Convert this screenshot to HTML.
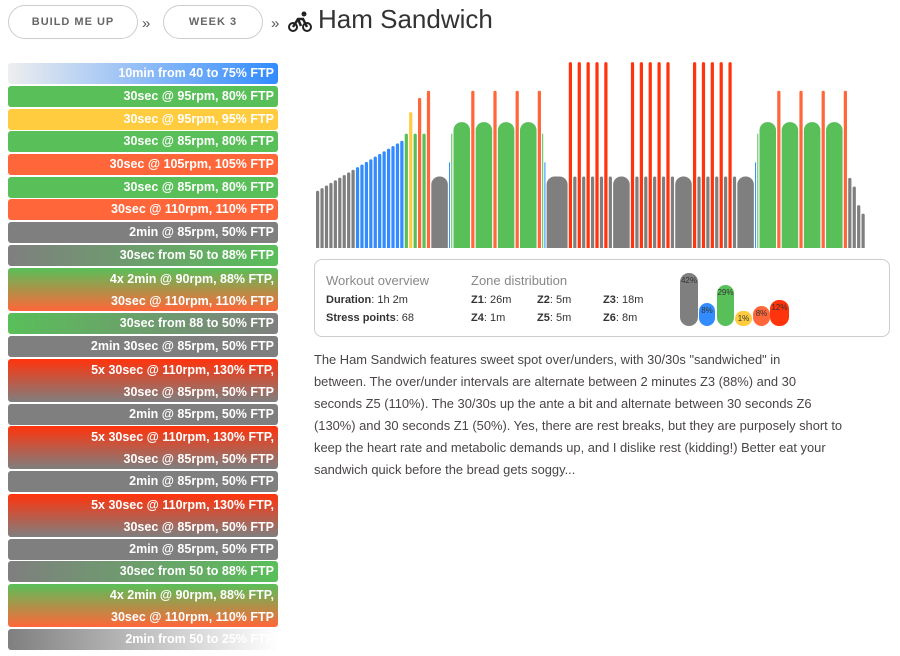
<!DOCTYPE html>
<html><head><meta charset="utf-8"><style>
body{margin:0;width:900px;height:656px;background:#fff;font-family:"Liberation Sans",sans-serif;position:relative;overflow:hidden}
.btn{position:absolute;top:5px;height:32px;border:1px solid #ccc;border-radius:17px;font-size:11px;font-weight:bold;letter-spacing:1px;color:#666;display:flex;align-items:center;justify-content:center}
.sep{position:absolute;top:15px;font-size:15px;color:#555}
.title{position:absolute;left:318px;top:4px;font-size:26px;color:#333}
.row{position:absolute;left:8px;width:270px;border-radius:3px;color:#fff;font-weight:bold;font-size:12.5px;text-align:right;box-sizing:border-box;padding-right:4px;line-height:21px}
.g{background:#59bf59}.y{background:#ffcc3f}.o{background:#ff6639}.k{background:#7f7f7f}
.go{background:linear-gradient(#59bf59,#ff6639)}.rk{background:linear-gradient(#ff330c,#7f7f7f)}
.box{position:absolute;left:314px;top:259px;width:576px;height:78px;border:1px solid #ccc;border-radius:8px;box-sizing:border-box}
.t{position:absolute;font-size:11px;color:#333;white-space:nowrap}
.h{position:absolute;font-size:13px;color:#888;white-space:nowrap}
.pill{position:absolute;border-radius:9px;font-size:8px;color:#333;text-align:center;padding-top:3px;box-sizing:border-box}
.desc{position:absolute;left:314px;top:349px;font-size:12.9px;line-height:22.1px;color:#4a4548;white-space:nowrap}
</style></head><body>
<div class="btn" style="left:8px;width:128px">BUILD ME UP</div>
<div class="sep" style="left:142px">»</div>
<div class="btn" style="left:163px;width:98px">WEEK 3</div>
<div class="sep" style="left:271px">»</div>
<svg style="position:absolute;left:288px;top:11px" width="24" height="22" viewBox="0 0 24 22"><circle cx="5" cy="16" r="4" fill="none" stroke="#222" stroke-width="2"/><circle cx="19" cy="16" r="4" fill="none" stroke="#222" stroke-width="2"/><circle cx="16" cy="3" r="2.5" fill="#222"/><path d="M5 16 L10 8 L15 8 L19 16 M10 8 L13 15" stroke="#222" stroke-width="2.5" fill="none"/></svg>
<div class="title">Ham Sandwich</div>

<div class="row" style="top:63px;height:21px;background:linear-gradient(90deg,#eee,#328bff)">10min from 40 to 75% FTP</div>
<div class="row g" style="top:86px;height:21px">30sec @ 95rpm, 80% FTP</div>
<div class="row y" style="top:108.5px;height:21px">30sec @ 95rpm, 95% FTP</div>
<div class="row g" style="top:131px;height:21px">30sec @ 85rpm, 80% FTP</div>
<div class="row o" style="top:154px;height:21px">30sec @ 105rpm, 105% FTP</div>
<div class="row g" style="top:176.5px;height:21px">30sec @ 85rpm, 80% FTP</div>
<div class="row o" style="top:199px;height:21px">30sec @ 110rpm, 110% FTP</div>
<div class="row k" style="top:222px;height:21px">2min @ 85rpm, 50% FTP</div>
<div class="row" style="top:245px;height:21px;background:linear-gradient(90deg,#7f7f7f,#59bf59)">30sec from 50 to 88% FTP</div>
<div class="row go" style="top:268px;height:43px;line-height:22px">4x 2min @ 90rpm, 88% FTP,<br>30sec @ 110rpm, 110% FTP</div>
<div class="row" style="top:313px;height:21px;background:linear-gradient(90deg,#59bf59,#7f7f7f)">30sec from 88 to 50% FTP</div>
<div class="row k" style="top:336px;height:21px">2min 30sec @ 85rpm, 50% FTP</div>
<div class="row rk" style="top:359px;height:43px;line-height:22px">5x 30sec @ 110rpm, 130% FTP,<br>30sec @ 85rpm, 50% FTP</div>
<div class="row k" style="top:403.5px;height:21px">2min @ 85rpm, 50% FTP</div>
<div class="row rk" style="top:426px;height:43px;line-height:22px">5x 30sec @ 110rpm, 130% FTP,<br>30sec @ 85rpm, 50% FTP</div>
<div class="row k" style="top:471px;height:21px">2min @ 85rpm, 50% FTP</div>
<div class="row rk" style="top:494px;height:43px;line-height:22px">5x 30sec @ 110rpm, 130% FTP,<br>30sec @ 85rpm, 50% FTP</div>
<div class="row k" style="top:538.5px;height:21px">2min @ 85rpm, 50% FTP</div>
<div class="row" style="top:561px;height:21px;background:linear-gradient(90deg,#7f7f7f,#59bf59)">30sec from 50 to 88% FTP</div>
<div class="row go" style="top:584px;height:43px;line-height:22px">4x 2min @ 90rpm, 88% FTP,<br>30sec @ 110rpm, 110% FTP</div>
<div class="row" style="top:629px;height:21px;background:linear-gradient(90deg,#7f7f7f,#fff)">2min from 50 to 25% FTP</div>

<svg id="ch" style="position:absolute;left:0;top:0" width="900" height="260"></svg>

<div class="box"></div>
<div class="h" style="left:326px;top:273px">Workout overview</div>
<div class="t" style="left:326px;top:294px"><b>Duration</b>: 1h 2m</div>
<div class="t" style="left:326px;top:312px"><b>Stress points</b>: 68</div>
<div class="h" style="left:471px;top:273px">Zone distribution</div>
<div class="t" style="left:471px;top:294px"><b>Z1</b>: 26m</div>
<div class="t" style="left:537px;top:294px"><b>Z2</b>: 5m</div>
<div class="t" style="left:603px;top:294px"><b>Z3</b>: 18m</div>
<div class="t" style="left:471px;top:312px"><b>Z4</b>: 1m</div>
<div class="t" style="left:537px;top:312px"><b>Z5</b>: 5m</div>
<div class="t" style="left:603px;top:312px"><b>Z6</b>: 8m</div>
<div class="pill" style="left:680px;top:273px;width:18px;height:53px;background:#7f7f7f">42%</div>
<div class="pill" style="left:699px;top:303px;width:16px;height:23px;background:#328bff">8%</div>
<div class="pill" style="left:717px;top:285px;width:17px;height:41px;background:#59bf59">29%</div>
<div class="pill" style="left:735px;top:311px;width:17px;height:15px;background:#ffcc3f">1%</div>
<div class="pill" style="left:753px;top:306px;width:17px;height:20px;background:#ff6639">8%</div>
<div class="pill" style="left:770px;top:300px;width:19px;height:26px;background:#ff330c">12%</div>

<div class="desc">The Ham Sandwich features sweet spot over/unders, with 30/30s "sandwiched" in<br>between. The over/under intervals are alternate between 2 minutes Z3 (88%) and 30<br>seconds Z5 (110%). The 30/30s up the ante a bit and alternate between 30 seconds Z6<br>(130%) and 30 seconds Z1 (50%). Yes, there are rest breaks, but they are purposely short to<br>keep the heart rate and metabolic demands up, and I dislike rest (kidding!) Better eat your<br>sandwich quick before the bread gets soggy...</div>

<script>
var segs=[],t=0;
function add(d,p){segs.push([t,d,p]);t+=d;}
for(var i=0;i<20;i++)add(0.5,40+35*i/19);
add(.5,80);add(.5,95);add(.5,80);add(.5,105);add(.5,80);add(.5,110);add(2,50);
add(.25,60);add(.25,80);
for(i=0;i<4;i++){add(2,88);add(.5,110);}
add(.25,80);add(.25,60);add(2.5,50);
for(var b=0;b<3;b++){for(i=0;i<5;i++){add(.5,130);add(.5,50);} if(b<2)add(2,50);}
add(2,50);add(.25,60);add(.25,80);
for(i=0;i<4;i++){add(2,88);add(.5,110);}
add(.5,49);add(.5,43);add(.5,30);add(.5,24);
function col(p){return p<55?'#7f7f7f':p<76?'#328bff':p<91?'#59bf59':p<=100?'#ffcc3f':p<121?'#ff6639':'#ff330c';}
var s='',x0=316,k=8.87;
segs.forEach(function(g){var x=x0+g[0]*k,w=g[1]*k-1.2,h=g[2]*1.43;var r=Math.min(w/2,8);
s+='<rect x="'+x.toFixed(2)+'" y="'+(248-h).toFixed(2)+'" width="'+w.toFixed(2)+'" height="'+(h+r).toFixed(2)+'" rx="'+r.toFixed(2)+'" fill="'+col(g[2])+'"/>';});
s+='<rect x="300" y="248" width="600" height="12" fill="#fff"/>';
document.getElementById('ch').innerHTML=s;
</script>
</body></html>
